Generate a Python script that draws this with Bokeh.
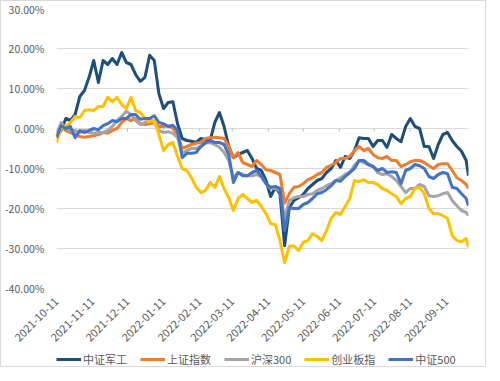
import pandas as pd
from bokeh.plotting import figure
from bokeh.layouts import column
from bokeh.models import (Range1d, FixedTicker, PrintfTickFormatter, DatetimeTickFormatter,
                          Legend, LegendItem, ColumnDataSource)
from bokeh.embed import file_html
from bokeh.resources import INLINE
from math import pi

# ---------------- data (cumulative return, %) ----------------
dates = list(pd.date_range("2021-10-11", "2022-09-28", freq="4D")) + [pd.Timestamp("2022-09-30")]

series_names = ["中证军工", "上证指数", "沪深300", "创业板指", "中证500"]
series_colors = ["#1F4E79", "#ED7D31", "#A5A5A5", "#FFC000", "#4472C4"]

jungong = [-2, -0.5, 2.5, 2, 3.5, 8, 9.5, 12.8, 17, 11.5,
           17, 16, 17.5, 16, 19, 16.5, 16, 13.5, 11.8, 12.8,
           18.3, 17, 8.7, 5, 6.5, 6.7, 1.2, -2.5, -3, -3.2,
           -3.5, -2.5, -2.8, -3, 1.5, 4, 0.5, -4.5, -7.3, -6.5,
           -6, -5.5, -7.5, -10, -10.5, -13, -17, -14.7, -16.3, -29.3,
           -19.8, -18, -17.3, -16.5, -15, -14, -13, -12.5, -11, -10,
           -8, -9.7, -7, -7.5, -5.5, -2.3, -2.5, -2.5, -4.5, -3,
           -3, -4.7, -1.5, -2.5, -3.3, 0.5, 2.5, 0.5, 0, -4.5,
           -4.5, -7.5, -4, -1.5, -1, -3, -4.5, -5.7, -8, -11.8]

shangzheng = [-2, 0.5, -0.5, -1, -1.5, -2, -2.2, -2, -1.8, -1.5,
              -1, -1.2, -0.5, 0, 1.5, 2.5, 2, 2.5, 1.2, 1,
              1.2, 1.5, 0.5, 0.5, 0.7, 0, -1.5, -5, -4.5, -4,
              -3.7, -3.5, -2.5, -2.3, -2.2, -2.3, -2.5, -4.5, -7.3, -6,
              -8.5, -9, -9.5, -8, -9, -10.3, -10.5, -11, -11.5, -18.7,
              -16.3, -14.7, -14.5, -13.8, -12.8, -12.3, -11.5, -11, -9.7, -9.2,
              -8.5, -7.5, -7.5, -7, -5.5, -4.5, -5.5, -5, -6.5, -7.3,
              -7.5, -7, -8, -8, -9.5, -9, -8.3, -8, -8, -8.5,
              -9.3, -10, -9, -8.8, -8.8, -10.5, -12.3, -13, -14, -15]

hs300 = [-1.5, 1.5, 0, -0.5, -0.5, -1, -0.5, -1, -1.2, -1,
         -1, -0.5, 0.5, 2, 3, 4.3, 3.5, 2, 1, 1.5,
         2.5, 1.5, -0.5, -1, -0.8, -1.2, -2.3, -6.2, -5.5, -5,
         -5, -4.5, -3.7, -3.5, -4, -4.7, -6, -8, -12.3, -11,
         -11.5, -11.8, -11.8, -11.5, -12, -13.8, -15, -15, -15.5, -22.5,
         -18, -17.3, -17, -17, -16.5, -16.3, -15.5, -15, -14.3, -13.8,
         -13, -12.3, -11.5, -11, -9.2, -8, -8.5, -9, -9.5, -11,
         -11.5, -11.3, -12, -13, -14.5, -16, -15, -15, -14, -14.5,
         -16.8, -17, -16.8, -16.3, -16, -18, -19.3, -20.5, -21, -21.8]

cyb = [-3.5, 0, 0.5, 1.5, 3, 2.7, 4.5, 4.7, 4.5, 5.5,
       5.5, 7.8, 6.7, 7.8, 6, 5, 7.8, 4.5, 4, 2.5,
       1.7, 2, -1.5, -5.5, -4, -3.5, -7, -10, -10.5, -12.3,
       -14.7, -16, -15.5, -13.5, -14.7, -12, -15, -17.3, -20.5, -17.5,
       -16.5, -17.5, -18.5, -18, -19.5, -21.3, -23.8, -24, -28, -33.5,
       -29.5, -29.3, -30.5, -28.5, -28, -26.3, -27, -28, -25.5, -22.5,
       -21, -21.5, -19.5, -17.5, -13, -13.3, -12.8, -13.5, -13.5, -14,
       -15, -15.5, -16.3, -17, -18.8, -17.5, -17, -15, -14.7, -16.3,
       -20, -21.3, -21.3, -21.8, -22.5, -26.8, -28, -28.3, -27.5, -29.7]

zz500 = [-2.3, 0.7, 0, 0.5, -2.3, -0.5, -1, -0.5, 0, -0.3,
         0.7, 1.2, 2, 1.7, 2.5, 2.5, 3.5, 3.5, 2.3, 2.5,
         2.5, 3.2, 1.5, 1.2, 0.5, 0.8, -0.5, -7.3, -6.2, -6.2,
         -6, -4.5, -3.5, -3, -3.5, -3.5, -4, -6.5, -13.5, -11,
         -11.8, -11.8, -11, -10.5, -12, -13.8, -14.7, -14.5, -15, -25.5,
         -19.8, -20, -20, -19, -18.5, -17.5, -16.3, -16, -15.3, -14.3,
         -13, -13.2, -12, -11, -10, -8, -8, -9, -9.5, -10.5,
         -10, -11, -10.8, -11, -13.8, -10.5, -10, -9, -9.3, -10,
         -12, -12.5, -11.5, -11, -11.3, -14.7, -15, -16.3, -17.5, -19.3]

x_tick_labels = ["2021-10-11", "2021-11-11", "2021-12-11", "2022-01-11", "2022-02-11",
                 "2022-03-11", "2022-04-11", "2022-05-11", "2022-06-11", "2022-07-11",
                 "2022-08-11", "2022-09-11"]
y_ticks = [-40, -30, -20, -10, 0, 10, 20, 30]

all_series = [jungong, shangzheng, hs300, cyb, zz500]

# ---------------- main figure ----------------
FONT = "Noto Sans CJK SC"
p = figure(width=484, height=350, x_axis_type="datetime", output_backend="svg",
           toolbar_location=None, min_border_left=45, min_border_right=13,
           min_border_top=7, min_border_bottom=63)
p.outline_line_color = None
p.background_fill_color = "white"
p.border_fill_color = "white"

p.x_range = Range1d(pd.Timestamp("2021-10-11"), pd.Timestamp("2022-09-30"))
p.y_range = Range1d(-40, 30)

tick_ms = [pd.Timestamp(t).value / 1e6 for t in x_tick_labels]
p.xaxis.ticker = FixedTicker(ticks=tick_ms)
fmt = "%Y-%m-%d"
p.xaxis.formatter = DatetimeTickFormatter(days=fmt, months=fmt, years=fmt, hours=fmt,
                                          minutes=fmt, seconds=fmt, milliseconds=fmt,
                                          microseconds=fmt, minsec=fmt, hourmin=fmt)
p.xaxis.major_label_orientation = pi / 4
p.yaxis.ticker = FixedTicker(ticks=y_ticks)
p.yaxis.formatter = PrintfTickFormatter(format="%.2f%%")

for ax in (p.xaxis, p.yaxis):
    ax.axis_line_color = None
    ax.major_tick_line_color = None
    ax.minor_tick_line_color = None
    ax.major_label_text_font = FONT
    ax.major_label_text_color = "#595959"
p.xaxis.major_label_text_font_size = "11px"
p.yaxis.major_label_text_font_size = "10.5px"
p.yaxis.major_label_standoff = 6
p.xaxis.major_label_standoff = 5

p.xgrid.grid_line_color = None
p.ygrid.grid_line_color = "#D9D9D9"
p.ygrid.grid_line_width = 1

# small tick marks on the 0% line
tick_dates = [pd.Timestamp(t) for t in x_tick_labels]
p.segment(x0=tick_dates, y0=[0] * len(tick_dates), x1=tick_dates, y1=[-0.8] * len(tick_dates),
          line_color="#BFBFBF", line_width=1)

for name, color, vals in zip(series_names, series_colors, all_series):
    src = ColumnDataSource(dict(x=dates, y=vals))
    p.line("x", "y", source=src, line_color=color, line_width=3, line_join="round")

# ---------------- legend strip ----------------
lg = figure(width=484, height=15, output_backend="svg", toolbar_location=None,
            min_border_left=41, min_border_right=17, min_border_top=0, min_border_bottom=0,
            x_range=Range1d(0, 1), y_range=Range1d(0, 1))
lg.axis.visible = False
lg.grid.visible = False
lg.outline_line_color = None
items = []
for name, color in zip(series_names, series_colors):
    # legend key only: its two points lie outside the visible range
    r = lg.line(x=[5, 6], y=[5, 6], line_color=color, line_width=3)
    items.append(LegendItem(label=name, renderers=[r]))
legend = Legend(items=items, orientation="horizontal", location="center_left",
                border_line_color=None, background_fill_alpha=0,
                label_text_font=FONT, label_text_font_size="11px",
                label_text_color="#595959", glyph_width=25, glyph_height=14,
                label_standoff=2, spacing=13, padding=0, margin=0)
lg.add_layout(legend, "center")

layout = column(p, lg, spacing=0)
layout.styles = {"border": "1px solid #D9D9D9"}

html = file_html(layout, INLINE)
open("out.html", "w").write(html)
